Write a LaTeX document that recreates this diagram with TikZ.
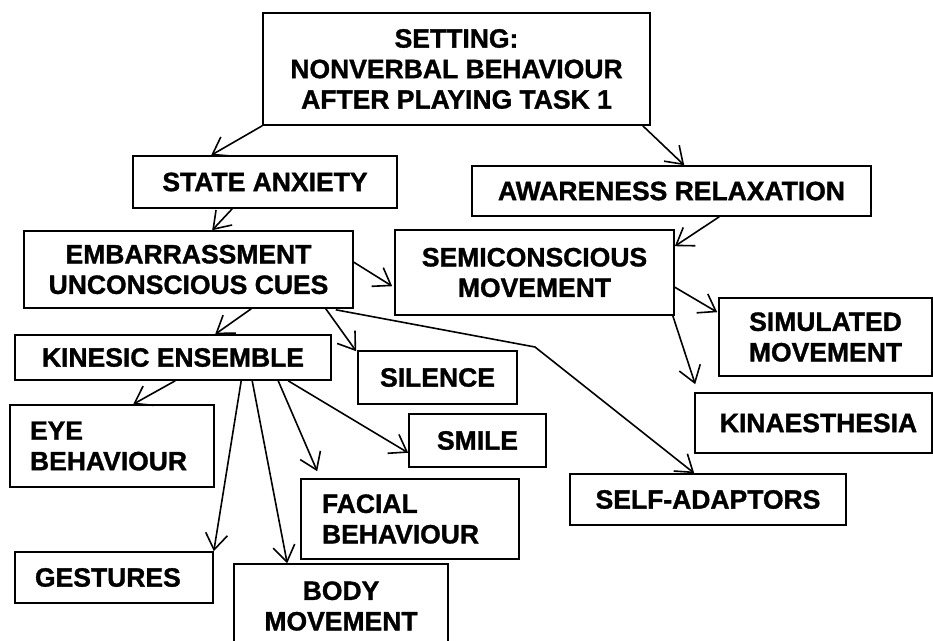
\documentclass[tikz,border=0pt]{standalone}
\usepackage{fontspec}
\setmainfont{Liberation Sans}[BoldFeatures={FakeBold=1.2}]
\usetikzlibrary{arrows.meta,calc}
\begin{document}
\begin{tikzpicture}[x=1pt,y=-1pt,
  box/.style={draw, line width=1.6pt, inner sep=0pt, align=center,
    font=\fontsize{26.5}{30.5}\selectfont\bfseries},
  arr/.style={line width=1.6pt,
    -{Straight Barb[length=16pt,width=22pt,line width=1.6pt]}}
]
\useasboundingbox (0,0) rectangle (933,640);
\clip (0,0) rectangle (933,640);

% boxes
\node[box, minimum width=387pt, minimum height=112pt] (setting) at (456.5,69)
  {SETTING:\\NONVERBAL BEHAVIOUR\\AFTER PLAYING TASK 1};
\node[box, minimum width=264pt, minimum height=52pt] (state) at (265,182) {STATE ANXIETY};
\node[box, minimum width=399pt, minimum height=50pt] (aware) at (671.5,191) {AWARENESS RELAXATION};
\node[box, minimum width=329pt, minimum height=77pt] (embarr) at (188.5,269.5)
  {EMBARRASSMENT\\UNCONSCIOUS CUES};
\node[box, minimum width=279pt, minimum height=85pt] (semi) at (534.5,272.5)
  {SEMICONSCIOUS\\MOVEMENT};
\node[box, minimum width=316pt, minimum height=45pt] (kinesic) at (173,357.5) {KINESIC ENSEMBLE};
\node[box, minimum width=159pt, minimum height=53pt] (silence) at (437.5,377.5) {SILENCE};
\node[box, minimum width=137pt, minimum height=53pt] (smile) at (477.5,440.5) {SMILE};
\node[box, minimum width=213pt, minimum height=78pt] (simul) at (825.5,337)
  {SIMULATED\\MOVEMENT};
\node[box, minimum width=237pt, minimum height=60pt] (kinaes) at (813.5,423)
  {\hspace*{10pt}KINAESTHESIA};
\node[box, minimum width=276pt, minimum height=51pt] (selfad) at (708,499.5) {SELF-ADAPTORS};
\node[box, align=left, text width=164pt, inner xsep=20pt,
  minimum width=204pt, minimum height=82pt] (eye) at (112,446) {EYE\\BEHAVIOUR};
\node[box, align=left, text width=158pt, inner xsep=20pt,
  minimum width=198pt, minimum height=51pt] (gest) at (114,577.5) {GESTURES};
\node[box, align=left, text width=176pt, inner xsep=21pt,
  minimum width=218pt, minimum height=80pt] (facial) at (410,519) {FACIAL\\BEHAVIOUR};
\node[box, minimum width=214pt, minimum height=84pt] (body) at (341,606) {BODY\\MOVEMENT};

% connectors
\draw[arr] (setting.south west) -- ($(state.north west)+(79,0)$);
\draw[arr] ($(setting.south east)+(-8,0)$) -- ($(aware.north west)+(213,0)$);
\draw[arr] ($(state.south west)+(100,0)$) -- ($(embarr.north west)+(189,0)$);
\draw[arr] ($(embarr.north east)+(0,32)$) -- ($(semi.north west)+(-2,57)$);
\draw[arr] ($(aware.south west)+(248,0)$) -- ($(semi.north east)+(0,17)$);
\draw[arr] ($(semi.north east)+(0,58)$) -- ($(simul.north west)+(-1,15)$);
\draw[arr] ($(semi.south east)+(-2,0)$) -- ($(kinaes.north west)+(1,-8)$);
\draw[arr] ($(embarr.south west)+(228,0)$) -- ($(kinesic.north west)+(201,0)$);
\draw[arr] ($(embarr.south east)+(-28,0)$) -- ($(silence.north west)+(-1,1)$);
\coordinate (bend) at (535,347);
\draw[arr] ($(embarr.south east)+(-18,1)$) -- (bend) -- ($(selfad.north west)+(125,0)$);
\draw[arr] ($(kinesic.south west)+(161,0)$) -- ($(eye.north west)+(124,0)$);
\draw[arr] ($(kinesic.south west)+(227,0)$) -- (gest.north east);
\draw[arr] ($(kinesic.south west)+(238,0)$) -- ($(body.north west)+(54,0)$);
\draw[arr] ($(kinesic.south west)+(264,0)$) -- ($(facial.north west)+(17,-7)$);
\draw[arr] ($(kinesic.south west)+(274,0)$) -- ($(smile.south west)+(0,-15)$);
\end{tikzpicture}
\end{document}
